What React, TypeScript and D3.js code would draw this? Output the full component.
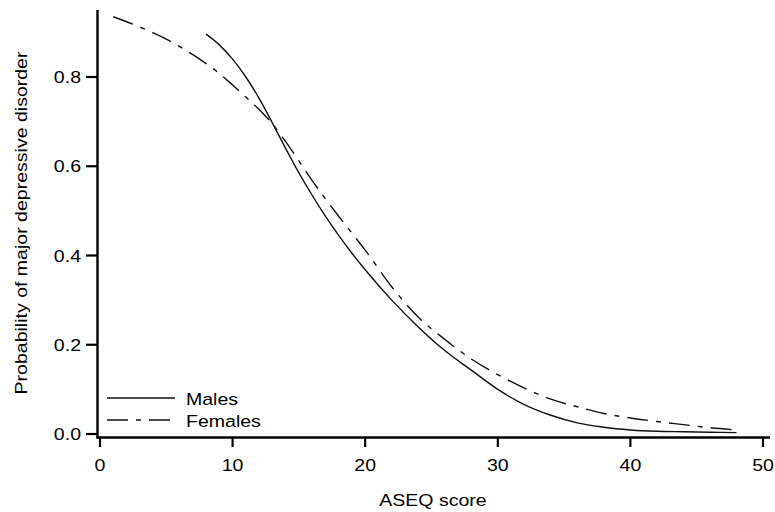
import React from 'react'
import * as d3 from 'd3'

// ASEQ score vs probability of MDD
const maleScores = [8, 9, 10, 11, 12, 13, 14, 15, 16, 17, 18, 19, 20, 22, 24, 26, 28, 30, 32, 34, 36, 38, 40, 42, 44, 46, 48]
const maleProb = [0.896, 0.872, 0.84, 0.8, 0.752, 0.697, 0.64, 0.585, 0.535, 0.488, 0.445, 0.405, 0.368, 0.3, 0.24, 0.187, 0.143, 0.1, 0.066, 0.042, 0.025, 0.015, 0.009, 0.006, 0.005, 0.004, 0.003]

const femaleScores = [1, 3, 5, 7, 8, 9, 10, 11, 12, 13, 14, 15, 16, 17, 18, 19, 20, 22, 24, 26, 28, 30, 32, 34, 36, 38, 40, 42, 44, 46, 48]
const femaleProb = [0.935, 0.912, 0.885, 0.85, 0.83, 0.808, 0.782, 0.755, 0.727, 0.695, 0.655, 0.612, 0.568, 0.527, 0.488, 0.45, 0.412, 0.33, 0.262, 0.212, 0.168, 0.133, 0.103, 0.078, 0.061, 0.046, 0.036, 0.028, 0.021, 0.014, 0.009]

const xTicks = [0, 10, 20, 30, 40, 50]
const yTicks = [0, 0.2, 0.4, 0.6, 0.8]
const seriesNames = ['Males', 'Females']

const W = 775
const H = 512
const FONT = '"Liberation Sans", Arial, Helvetica, sans-serif'
const FS = 17
const STRETCH = 1.15
const FEMALE_DASH = '21,8,5,8'

export default function App() {
  const x = d3.scaleLinear().domain([0, 50]).range([100, 763])
  const y = d3.scaleLinear().domain([0, 0.8]).range([434, 77])

  const line = d3
    .line<[number, number]>()
    .x(d => x(d[0]))
    .y(d => y(d[1]))
    .curve(d3.curveMonotoneX)

  const males = maleScores.map((s, i) => [s, maleProb[i]] as [number, number])
  const females = femaleScores.map((s, i) => [s, femaleProb[i]] as [number, number])

  // axis frame
  const axX = 97.5
  const axY = 437.5
  const axTop = 10
  const axRight = 770

  const txt = (label: string, tx: number, ty: number, anchor: string, rot = 0) => (
    <text
      key={label + tx + ty}
      transform={`translate(${tx},${ty}) rotate(${rot}) scale(${STRETCH},1)`}
      textAnchor={anchor}
      fontFamily={FONT}
      fontSize={FS}
      fill="#000"
    >
      {label}
    </text>
  )

  return (
    <svg width={W} height={H} style={{ position: 'absolute', left: 0, top: 0, background: '#fff' }}>
      <rect width={W} height={H} fill="#fff" />

      {/* curves */}
      <path d={line(males) || ''} fill="none" stroke="#111" strokeWidth={1.4} />
      <path d={line(females) || ''} fill="none" stroke="#111" strokeWidth={1.4} strokeDasharray={FEMALE_DASH} />

      {/* y axis */}
      <line x1={axX} x2={axX} y1={axTop} y2={axY + 1} stroke="#000" strokeWidth={2.4} />
      {yTicks.map(t => (
        <line key={'yt' + t} x1={86} x2={axX} y1={y(t)} y2={y(t)} stroke="#000" strokeWidth={2.2} />
      ))}
      {yTicks.map(t => txt(d3.format('.1f')(t), 81, y(t) + 6, 'end'))}

      {/* x axis */}
      <line x1={axX - 1} x2={axRight} y1={axY} y2={axY} stroke="#000" strokeWidth={2.4} />
      {xTicks.map(t => (
        <line key={'xt' + t} x1={x(t)} x2={x(t)} y1={axY} y2={447} stroke="#000" strokeWidth={2.2} />
      ))}
      {xTicks.map(t => txt(String(t), x(t), 471, 'middle'))}

      {/* axis titles */}
      {txt('ASEQ score', 433, 506, 'middle')}
      {txt('Probability of major depressive disorder', 27, 223, 'middle', -90)}

      {/* legend */}
      <line x1={107} x2={175} y1={398} y2={398} stroke="#111" strokeWidth={1.4} />
      <line x1={107} x2={175} y1={420} y2={420} stroke="#111" strokeWidth={1.4} strokeDasharray={FEMALE_DASH} />
      {txt(seriesNames[0], 186, 405, 'start')}
      {txt(seriesNames[1], 186, 427, 'start')}
    </svg>
  )
}
